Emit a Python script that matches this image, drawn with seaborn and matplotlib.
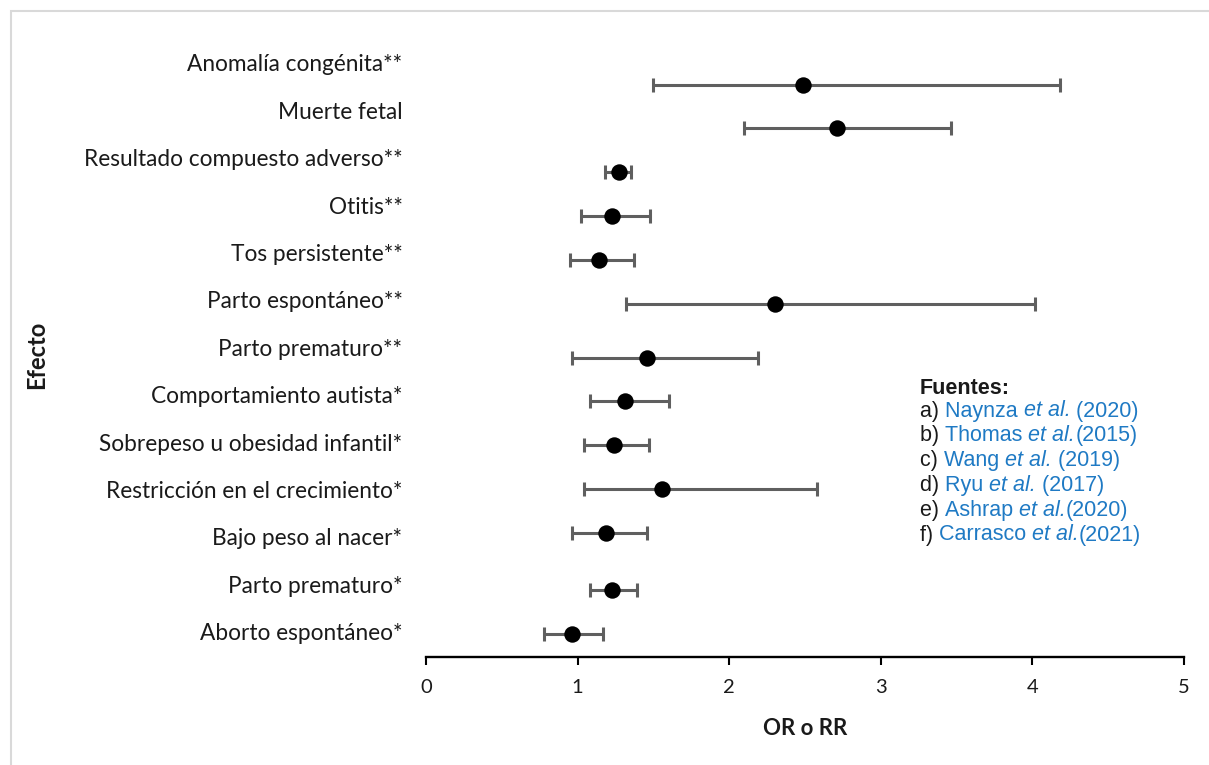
import matplotlib
matplotlib.use("Agg")
import matplotlib.pyplot as plt
from matplotlib.patches import Rectangle
import pandas as pd
import seaborn as sns

# effects, top to bottom
efectos = ["Anomalía congénita**", "Muerte fetal", "Resultado compuesto adverso**",
           "Otitis**", "Tos persistente**", "Parto espontáneo**", "Parto prematuro**",
           "Comportamiento autista*", "Sobrepeso u obesidad infantil*",
           "Restricción en el crecimiento*", "Bajo peso al nacer*", "Parto prematuro*",
           "Aborto espontáneo*"]
estimado = [2.49, 2.71, 1.27, 1.23, 1.14, 2.30, 1.46, 1.31, 1.24, 1.56, 1.19, 1.23, 0.96]
inferior = [1.50, 2.10, 1.18, 1.02, 0.95, 1.32, 0.96, 1.08, 1.04, 1.04, 0.96, 1.08, 0.78]
superior = [4.18, 3.46, 1.35, 1.48, 1.37, 4.02, 2.19, 1.60, 1.47, 2.58, 1.46, 1.39, 1.17]
# vertical position of each point (row units, bottom = 0)
fila = [13.0, 12.02, 11.02, 10.02, 9.02, 8.02, 6.80, 5.82, 4.82, 3.82, 2.82, 1.52, 0.52]
# vertical position of the row labels
pos_etiqueta = [13.5 - i * 1.077 for i in range(len(efectos))]

fuentes = [
    [("a) ", "k", "normal"), ("Naynza ", "b", "normal"), ("et al.", "b", "italic"), (" (2020)", "b", "normal")],
    [("b) ", "k", "normal"), ("Thomas ", "b", "normal"), ("et al.", "b", "italic"), ("(2015)", "b", "normal")],
    [("c) ", "k", "normal"), ("Wang ", "b", "normal"), ("et al.", "b", "italic"), (" (2019)", "b", "normal")],
    [("d) ", "k", "normal"), ("Ryu ", "b", "normal"), ("et al.", "b", "italic"), (" (2017)", "b", "normal")],
    [("e) ", "k", "normal"), ("Ashrap ", "b", "normal"), ("et al.", "b", "italic"), ("(2020)", "b", "normal")],
    [("f) ", "k", "normal"), ("Carrasco ", "b", "normal"), ("et al.", "b", "italic"), ("(2021)", "b", "normal")],
]

df = pd.DataFrame({"efecto": efectos, "est": estimado, "lo": inferior,
                   "hi": superior, "y": fila})

sns.set_theme(style="white")
plt.rcParams['font.family'] = ['Lato', 'DejaVu Sans']

W, H = 1209, 765
fig = plt.figure(figsize=(W / 100, H / 100), dpi=100)
ax = fig.add_axes([426 / W, 1 - 657 / H, (1184 - 426) / W, (657 - 41) / H])

ax.errorbar(df["est"], df["y"], xerr=[df["est"] - df["lo"], df["hi"] - df["est"]],
            fmt="none", ecolor="#5f5f5f", elinewidth=2.2, capsize=4.7, capthick=2.2, zorder=2)
sns.scatterplot(data=df, x="est", y="y", color="black", s=140, linewidth=0, ax=ax, zorder=3)

ax.set_xlim(0, 5)
ax.set_ylim(0, 14)
ax.set_xticks(range(6))
ax.set_yticks(pos_etiqueta, efectos)
for s in ["left", "right", "top"]:
    ax.spines[s].set_visible(False)
ax.spines["bottom"].set_color("black")
ax.spines["bottom"].set_linewidth(1.7)
ax.tick_params(axis="x", direction="out", length=5.5, width=1.5, color="black",
               labelsize=14.5, pad=10, labelcolor="#1a1a1a", bottom=True)
ax.tick_params(axis="y", length=0, pad=17, labelsize=16.3, labelcolor="#1a1a1a")
ax.set_xlabel("OR o RR", fontsize=16, fontweight="bold", labelpad=16, color="#1a1a1a")
ax.set_ylabel("")
fig.text(37 / W, 1 - 355 / H, "Efecto", rotation=90, fontsize=17, fontweight="bold",
         ha="center", va="center", color="#1a1a1a")

# sources box
colores = {"k": "#1a1a1a", "b": "#1f7ac4"}
fam = ["Liberation Sans", "DejaVu Sans"]
fig.text(920 / W, 1 - 388 / H, "Fuentes:", fontsize=15.5, fontweight="bold",
         family=fam, va="center", color="#1a1a1a")
renderer = fig.canvas.get_renderer()
for i, linea in enumerate(fuentes):
    x = 920 / W
    y = 1 - (411 + i * 24.8) / H
    for texto, c, estilo in linea:
        t = fig.text(x, y, texto, fontsize=15.5, style=estilo, family=fam,
                     va="center", color=colores[c])
        bb = t.get_window_extent(renderer)
        x = bb.x1 / W

fig.patches.append(Rectangle((11 / W, -0.1), 1.2, 1 - 11 / H + 0.1, transform=fig.transFigure,
                             fill=False, edgecolor="#d9d9d9", linewidth=1.5))

fig.savefig("out.png", dpi=100)
